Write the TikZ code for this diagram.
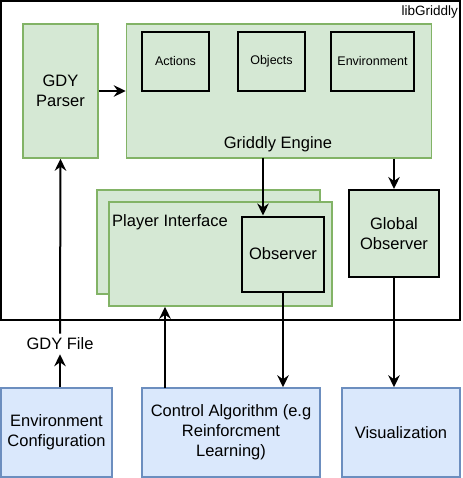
\documentclass[tikz,border=0pt]{standalone}
\usepackage{fontspec}
\setmainfont{Liberation Sans}
\usetikzlibrary{arrows.meta,calc}
\definecolor{gfill}{HTML}{D5E8D4}
\definecolor{gline}{HTML}{82B366}
\definecolor{bfill}{HTML}{DAE8FC}
\definecolor{bline}{HTML}{6C8EBF}
\tikzset{
  gbox/.style={draw=gline,fill=gfill,line width=1.5pt,inner sep=0pt,align=center,font=\fontsize{16.5}{19.5}\selectfont},
  kbox/.style={draw=black,fill=gfill,line width=2pt,inner sep=0pt,align=center,font=\fontsize{16.5}{19.5}\selectfont},
  sbox/.style={draw=black,fill=gfill,line width=2pt,inner sep=0pt,align=center,font=\fontsize{12.5}{15}\selectfont},
  bbox/.style={draw=bline,fill=bfill,line width=1.5pt,inner sep=0pt,align=center,font=\fontsize{16.5}{20}\selectfont},
  arr/.style={line width=2pt,-{Stealth[length=12pt,width=11.5pt,inset=4pt]}},
  lbl/.style={inner sep=0pt,font=\fontsize{16.5}{19.5}\selectfont}
}
\begin{document}
\begin{tikzpicture}[x=1pt,y=-1pt]
\useasboundingbox (0,0) rectangle (462,478);
% outer libGriddly box
\node[draw=black,line width=2pt,minimum width=459pt,minimum height=319pt,inner sep=0pt] (lib) at (230.5,160.5) {};
\node[anchor=north east,inner sep=0pt,font=\fontsize{13.5}{16}\selectfont] (libt) at (458,6) {libGriddly};
% parser
\node[gbox,minimum width=75pt,minimum height=134pt] (parser) at (60.5,91) {GDY\\[1pt]Parser};
% engine
\node[gbox,minimum width=305pt,minimum height=134pt] (engine) at (279,91) {};
\node[lbl] (enginet) at (278,144) {Griddly Engine};
\node[sbox,minimum width=67pt,minimum height=59pt] (actions) at (175.5,61.5) {Actions};
\node[sbox,minimum width=67pt,minimum height=59pt] (objects) at (271.5,61.5) {Objects};
\node[sbox,minimum width=83pt,minimum height=59pt] (envir) at (372.5,61.5) {Environment};
% player interface
\node[gbox,minimum width=223pt,minimum height=104pt] (piback) at (208.5,242) {};
\node[gbox,minimum width=223pt,minimum height=104pt] (pi) at (220.5,254) {};
\node[lbl,anchor=west] (pit) at (112,222) {Player Interface};
\node[kbox,minimum width=82pt,minimum height=75pt] (obs) at (283,254) {Observer};
\node[kbox,minimum width=90pt,minimum height=87pt] (gobs) at (394,233.5) {Global\\Observer};
% bottom boxes
\node[bbox,minimum width=111pt,minimum height=89pt] (cfg) at (56.5,432.5) {Environment\\Configuration};
\node[bbox,minimum width=178pt,minimum height=89pt] (ctrl) at (231,432.5) {Control Algorithm (e.g\\Reinforcment\\Learning)};
\node[bbox,minimum width=118pt,minimum height=89pt] (viz) at (401,432.5) {Visualization};
\node[lbl] (gdyf) at (60,344) {GDY File};
% connectors
\draw[arr] (cfg.north -| gdyf) -- ([yshift=-4pt]gdyf.south);
\draw[arr] ([yshift=4pt]gdyf.north) -- (parser.south);
\draw[arr] (parser.east |- 0,91) -- (engine.west |- 0,91);
\coordinate (e1) at (263,158);
\draw[arr] (e1) -- (e1 |- obs.north);
\draw[arr] (engine.south -| gobs.north) -- (gobs.north);
\coordinate (c1) at (165,388);
\draw[arr] (c1) -- (c1 |- pi.south);
\draw[arr] (obs.south) -- (obs.south |- ctrl.north);
\draw[arr] (gobs.south) -- (gobs.south |- viz.north);
\end{tikzpicture}
\end{document}
